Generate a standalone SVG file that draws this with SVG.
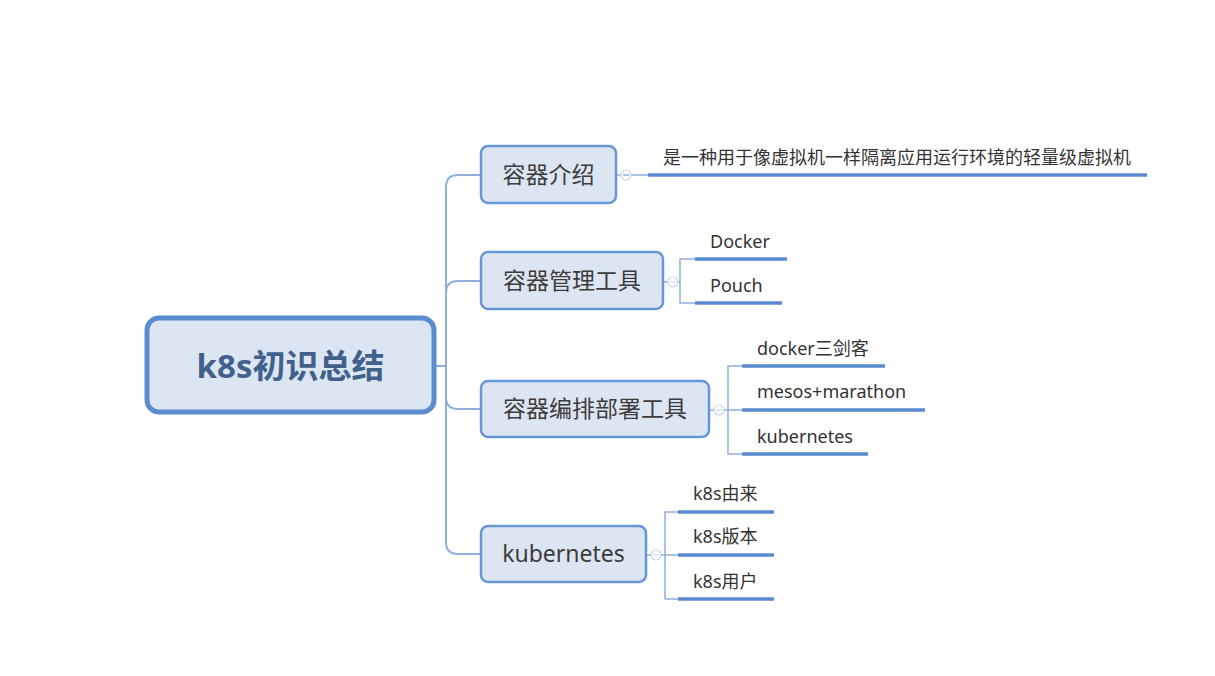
<svg xmlns="http://www.w3.org/2000/svg" width="1215" height="676" viewBox="0 0 1215 676">
<style>
.box{fill:#dce6f3;stroke:#6796d6;stroke-width:2.5}
.root{fill:#dce6f3;stroke:#5b8bd0;stroke-width:5}
.conn{fill:none;stroke:#8fb0dc;stroke-width:2}
.br{fill:none;stroke:#8fb0dc;stroke-width:1.5}
.ul{fill:none;stroke:#5a8ad0;stroke-width:3.5}
.tog{fill:#ffffff;stroke:#c9d5e5;stroke-width:1.2}
.tl{font-family:"Noto Sans","Noto Sans CJK SC",sans-serif;font-size:23px;fill:#3c3c3c}
.sl{font-family:"Noto Sans","Noto Sans CJK SC",sans-serif;font-size:18px;fill:#333333}
.rt{font-family:"Noto Sans","Noto Sans CJK SC",sans-serif;font-size:33px;font-weight:bold;fill:#41618c}
</style>
<rect width="1215" height="676" fill="#ffffff"/>
<g id="connectors">
<path class="conn" d="M434,366 H446"/>
<path class="conn" d="M446,366 V187 Q446,175 458,175 H481"/>
<path class="conn" d="M446,366 V293 Q446,281 458,281 H481"/>
<path class="conn" d="M446,366 V397 Q446,409 458,409 H481"/>
<path class="conn" d="M446,366 V542 Q446,554 458,554 H481"/>
<path class="br" d="M616,175 H648"/>
<path class="br" d="M663,282 H680 M695,259 H680 V303 H695"/>
<path class="br" d="M710,410 H742 M742,366 H728 V454 H742"/>
<path class="br" d="M647,555 H678 M678,512 H665 V599 H678"/>
<g class="ul">
<path d="M648,175 H1147"/>
<path d="M695,259 H787"/>
<path d="M695,303 H782"/>
<path d="M742,366 H885"/>
<path d="M742,410 H925"/>
<path d="M742,454 H868"/>
<path d="M678,512 H774"/>
<path d="M678,555 H774"/>
<path d="M678,599 H774"/>
</g>
<g>
<circle class="tog" cx="626" cy="175" r="5"/><path class="br" d="M623,175 H629" stroke="#c9d5e5"/>
<circle class="tog" cx="673" cy="282" r="5"/><path d="M670,282 H676" stroke="#c9d5e5" stroke-width="1.2"/>
<circle class="tog" cx="719" cy="410" r="5"/><path d="M716,410 H722" stroke="#c9d5e5" stroke-width="1.2"/>
<circle class="tog" cx="656" cy="555" r="5"/><path d="M653,555 H659" stroke="#c9d5e5" stroke-width="1.2"/>
</g>
</g>
<g id="root">
<rect class="root" x="147" y="318" width="287" height="94" rx="12"/>
<text class="rt" x="290.5" y="378" text-anchor="middle">k8s初识总结</text>
</g>
<g id="n1">
<rect class="box" x="481" y="146" width="135" height="57" rx="7"/>
<text class="tl" x="548.5" y="183" text-anchor="middle">容器介绍</text>
</g>
<g id="n2">
<rect class="box" x="481" y="252" width="182" height="57" rx="7"/>
<text class="tl" x="572" y="289" text-anchor="middle">容器管理工具</text>
</g>
<g id="n3">
<rect class="box" x="481" y="381" width="228" height="56" rx="7"/>
<text class="tl" x="595" y="417" text-anchor="middle">容器编排部署工具</text>
</g>
<g id="n4">
<rect class="box" x="481" y="526" width="165" height="56" rx="7"/>
<text class="tl" x="563.5" y="562" text-anchor="middle">kubernetes</text>
</g>
<g id="leaf-desc"><text class="sl" x="663" y="164">是一种用于像虚拟机一样隔离应用运行环境的轻量级虚拟机</text></g>
<g id="leaf-docker"><text class="sl" x="710" y="248">Docker</text></g>
<g id="leaf-pouch"><text class="sl" x="710" y="292">Pouch</text></g>
<g id="leaf-compose"><text class="sl" x="757" y="355">docker三剑客</text></g>
<g id="leaf-mesos"><text class="sl" x="757" y="398">mesos+marathon</text></g>
<g id="leaf-k8s"><text class="sl" x="757" y="443">kubernetes</text></g>
<g id="leaf-origin"><text class="sl" x="693" y="500">k8s由来</text></g>
<g id="leaf-version"><text class="sl" x="693" y="543">k8s版本</text></g>
<g id="leaf-users"><text class="sl" x="693" y="588">k8s用户</text></g>
</svg>
